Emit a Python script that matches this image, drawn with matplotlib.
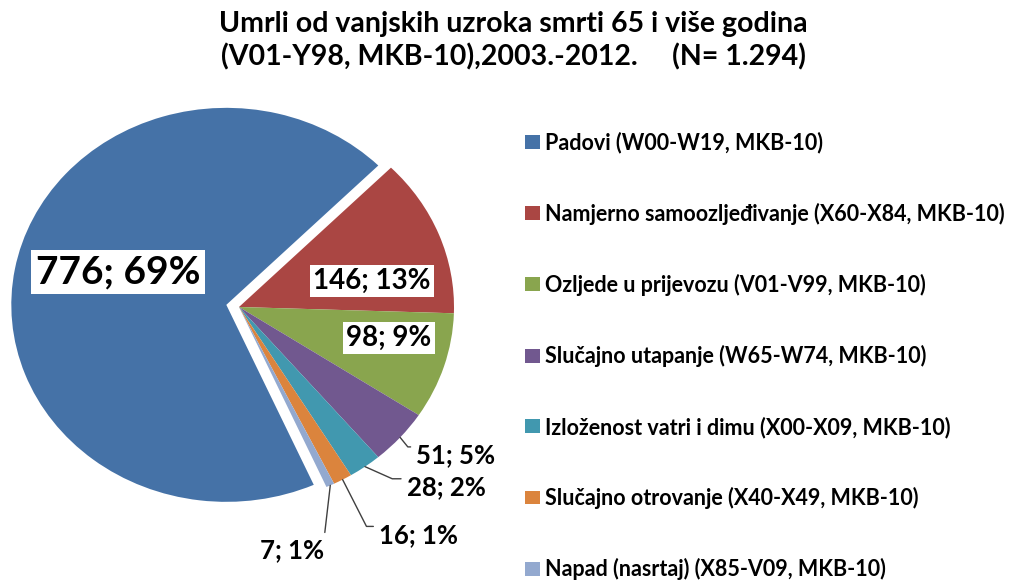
import matplotlib.pyplot as plt
from matplotlib.patches import Patch
import numpy as np

plt.rcParams['font.family'] = ['Lato', 'DejaVu Sans']

causes = [
    "Padovi (W00-W19, MKB-10)",
    "Namjerno samoozljeđivanje (X60-X84, MKB-10)",
    "Ozljede u prijevozu (V01-V99, MKB-10)",
    "Slučajno utapanje (W65-W74, MKB-10)",
    "Izloženost vatri i dimu (X00-X09, MKB-10)",
    "Slučajno otrovanje (X40-X49, MKB-10)",
    "Napad (nasrtaj) (X85-V09, MKB-10)",
]
deaths = [776, 146, 98, 51, 28, 16, 7]
colors = ["#4572A7", "#AA4643", "#89A54E", "#71588F", "#4198AF", "#DB843D", "#93A9CF"]

# label placement: distance from wedge centre and angle shift from wedge middle
label_r = [0.531, 0.633, 0.715, 1.258, 1.328, 1.426, 1.258]
label_dtheta = [-7.8, -9.6, 4.8, 4.7, 10.6, 7.0, -13.8]

W, H = 1026, 585
fig = plt.figure(figsize=(W / 100, H / 100), dpi=100)
ax = fig.add_axes([0, 2.2 / H, 478 / W, 551.6 / H])

wedges, _ = ax.pie(
    deaths,
    colors=colors,
    startangle=294,
    counterclock=False,
    explode=[0.06, 0, 0, 0, 0, 0, 0],
    wedgeprops=dict(linewidth=0),
)
ax.set_aspect("auto")
ax.set_xlim(-1.1116, 1.1116)
ax.set_ylim(-1.4, 1.4)
ax.axis("off")

total = sum(deaths)
# leader line shapes for the outside labels
leaders = {
    3: dict(rel=(0, 0.85), style="angle,angleA=0,angleB=-51,rad=0"),
    4: dict(rel=(0, 0.85), style="angle,angleA=0,angleB=-24,rad=0"),
    5: dict(rel=(0, 0.85), style="angle,angleA=0,angleB=-63,rad=0"),
    6: dict(rel=(1.0, 1.0), style="arc3"),
}

for i, w in enumerate(wedges):
    mid = (w.theta1 + w.theta2) / 2
    cx, cy = w.center
    a = np.deg2rad(mid + label_dtheta[i])
    tx = cx + label_r[i] * np.cos(a)
    ty = cy + label_r[i] * np.sin(a)
    txt = f"{deaths[i]}; {round(100 * deaths[i] / total)}%"
    if i == 0:
        ax.text(tx, ty, txt, ha="center", va="center", fontsize=28, fontweight="bold",
                bbox=dict(boxstyle="square,pad=0.12", fc="white", ec="none"))
    elif i < 3:
        ax.text(tx, ty, txt, ha="center", va="center", fontsize=20, fontweight="bold",
                bbox=dict(boxstyle="square,pad=0.12", fc="white", ec="none"))
    else:
        ex = cx + np.cos(np.deg2rad(mid))
        ey = cy + np.sin(np.deg2rad(mid))
        ax.annotate(
            txt, xy=(ex, ey), xytext=(tx, ty), ha="center", va="center",
            fontsize=18.5, fontweight="bold", annotation_clip=False,
            arrowprops=dict(arrowstyle="-", color="#404040", lw=1.0,
                            shrinkA=2, shrinkB=0, relpos=leaders[i]["rel"],
                            connectionstyle=leaders[i]["style"]),
        )

handles = [Patch(facecolor=c, edgecolor="none") for c in colors]
fig.legend(
    handles, causes, loc="upper left", bbox_to_anchor=(525 / W, 1 - 132 / H),
    frameon=False, borderpad=0, borderaxespad=0,
    prop={"weight": "bold", "size": 15.5},
    handlelength=0.68, handleheight=0.62, handletextpad=0.25, labelspacing=2.28,
)

fig.text(0.5, 1 - 32 / H, "Umrli od vanjskih uzroka smrti 65 i više godina",
         ha="center", va="baseline", fontsize=20.5, fontweight="bold")
fig.text(0.5, 1 - 65 / H, "(V01-Y98, MKB-10),2003.-2012.     (N= 1.294)",
         ha="center", va="baseline", fontsize=20.5, fontweight="bold")

fig.savefig("out.png", dpi=100, facecolor="white")
